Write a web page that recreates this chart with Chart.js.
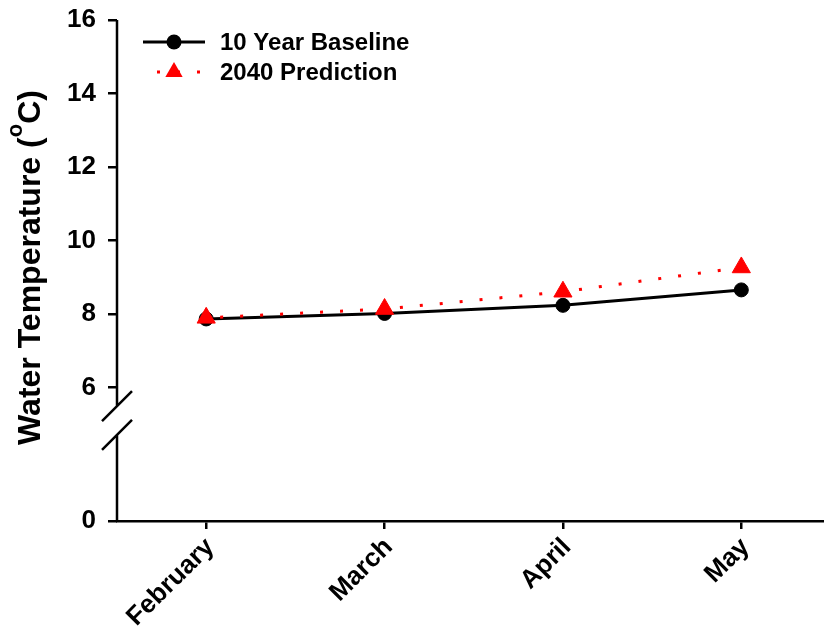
<!DOCTYPE html>
<html>
<head>
<meta charset="utf-8">
<script src="https://cdn.jsdelivr.net/npm/chart.js@4.4.1/dist/chart.umd.min.js"></script>
<style>
  html, body { margin: 0; padding: 0; background: #fff; overflow: hidden; }
  #wrap { width: 824px; height: 632px; overflow: hidden; }
  canvas { display: block; }
</style>
</head>
<body>
<div id="wrap"><canvas id="tempChart" width="842" height="632"></canvas></div>
<script>
const months = ['February', 'March', 'April', 'May'];
const baseline = [7.87, 8.02, 8.24, 8.66];
const prediction = [7.90, 8.14, 8.61, 9.27];
const yTicks = [6, 8, 10, 12, 14, 16];
const seriesNames = ['10 Year Baseline', '2040 Prediction'];

// y axis is broken between 0 and 6; the lower piece is squeezed, so the
// scale starts at yFloor and that tick is labelled "0"
const yFloor = 2.375;
const breakValues = [5.5, 4.72];

const FONT = "'Liberation Sans', Arial, sans-serif";

const brokenAxis = {
  id: 'brokenAxis',
  afterDraw(chart) {
    const {ctx, chartArea} = chart;
    const y = chart.scales.y;
    const x = chartArea.left;
    const yHi = y.getPixelForValue(breakValues[0]);
    const yLo = y.getPixelForValue(breakValues[1]);
    ctx.save();
    ctx.strokeStyle = '#000';
    ctx.lineWidth = 2.5;
    ctx.beginPath();
    ctx.moveTo(x, chartArea.top);
    ctx.lineTo(x, yHi);
    ctx.moveTo(x, yLo);
    ctx.lineTo(x, chartArea.bottom);
    for (const yy of [yHi, yLo]) {
      ctx.moveTo(x - 15, yy + 15);
      ctx.lineTo(x + 15, yy - 15);
    }
    ctx.stroke();
    ctx.restore();
  }
};

const lineLegend = {
  id: 'lineLegend',
  afterDraw(chart) {
    const ctx = chart.ctx;
    const sx = chart.chartArea.left + 57;
    const rows = [42, 72];
    ctx.save();

    // baseline: solid line with a dot
    ctx.strokeStyle = '#000';
    ctx.fillStyle = '#000';
    ctx.lineWidth = 3;
    ctx.beginPath();
    ctx.moveTo(sx - 31, rows[0]);
    ctx.lineTo(sx + 31, rows[0]);
    ctx.stroke();
    ctx.beginPath();
    ctx.arc(sx, rows[0], 7.5, 0, Math.PI * 2);
    ctx.fill();

    // prediction: dotted red with a triangle
    ctx.strokeStyle = '#ff0000';
    ctx.fillStyle = '#ff0000';
    ctx.lineWidth = 3;
    ctx.setLineDash([3, 17]);
    ctx.beginPath();
    ctx.moveTo(sx - 17, rows[1]);
    ctx.lineTo(sx + 27, rows[1]);
    ctx.stroke();
    ctx.setLineDash([]);
    const r = 10;
    ctx.beginPath();
    ctx.moveTo(sx, rows[1] - r);
    ctx.lineTo(sx + r * 0.866, rows[1] + r / 2);
    ctx.lineTo(sx - r * 0.866, rows[1] + r / 2);
    ctx.closePath();
    ctx.fill();

    ctx.fillStyle = '#000';
    ctx.font = 'bold 24px ' + FONT;
    ctx.textBaseline = 'middle';
    ctx.textAlign = 'left';
    ctx.fillText(seriesNames[0], sx + 46, rows[0] + 1);
    ctx.fillText(seriesNames[1], sx + 46, rows[1] + 1);
    ctx.restore();
  }
};

const yTitle = {
  id: 'yTitle',
  afterDraw(chart) {
    const ctx = chart.ctx;
    const main = 'bold 32px ' + FONT;
    const sup = 'bold 22px ' + FONT;
    const parts = [['Water Temperature (', main, 0], ['o', sup, 18], ['C)', main, 0]];
    ctx.save();
    ctx.translate(40, 267.5);
    ctx.rotate(-Math.PI / 2);
    ctx.fillStyle = '#000';
    ctx.textBaseline = 'alphabetic';
    ctx.textAlign = 'left';
    let total = 0;
    for (const p of parts) { ctx.font = p[1]; total += ctx.measureText(p[0]).width; }
    let cx = -total / 2;
    for (const p of parts) {
      ctx.font = p[1];
      ctx.fillText(p[0], cx, -p[2]);
      cx += ctx.measureText(p[0]).width;
    }
    ctx.restore();
  }
};

const tickFont = { family: FONT, size: 26, weight: 'bold' };

new Chart(document.getElementById('tempChart'), {
  type: 'line',
  data: {
    labels: months,
    datasets: [
      {
        label: seriesNames[1],
        data: prediction,
        order: 0,
        borderColor: '#ff0000',
        backgroundColor: '#ff0000',
        borderWidth: 3,
        borderDash: [3, 17],
        borderDashOffset: 6,
        borderCapStyle: 'butt',
        pointStyle: 'triangle',
        pointRadius: 10.5,
        pointBorderWidth: 1,
        pointBackgroundColor: '#ff0000',
        pointBorderColor: '#ff0000'
      },
      {
        label: seriesNames[0],
        data: baseline,
        order: 1,
        borderColor: '#000',
        backgroundColor: '#000',
        borderWidth: 3,
        pointStyle: 'circle',
        pointRadius: 7,
        pointBorderWidth: 1,
        pointBackgroundColor: '#000',
        pointBorderColor: '#000'
      }
    ]
  },
  options: {
    responsive: false,
    devicePixelRatio: 1,
    animation: false,
    layout: { padding: { top: 20, right: 1, left: 0, bottom: 0 } },
    elements: { line: { tension: 0 } },
    plugins: {
      legend: { display: false },
      tooltip: { enabled: false }
    },
    scales: {
      x: {
        offset: true,
        grid: { offset: false, drawOnChartArea: false, drawTicks: true, tickLength: 8, color: '#000', lineWidth: 2.5 },
        border: { display: true, color: '#000', width: 2.5 },
        ticks: { autoSkip: false, minRotation: 45, maxRotation: 45, padding: 3, labelOffset: 4, color: '#000', font: tickFont },
        afterFit(s) { s.height = 111; }
      },
      y: {
        min: yFloor,
        max: 16,
        afterBuildTicks(s) { s.ticks = [yFloor, ...yTicks].map(v => ({ value: v })); },
        grid: { drawOnChartArea: false, drawTicks: true, tickLength: 9, color: '#000', lineWidth: 2.5 },
        border: { display: false },
        ticks: {
          padding: 12,
          color: '#000',
          font: tickFont,
          callback: v => (v === yFloor ? '0' : String(v))
        },
        afterFit(s) {
          s.width = 117;
          s.paddingTop = 0;
        }
      }
    }
  },
  plugins: [brokenAxis, lineLegend, yTitle]
});
</script>
</body>
</html>
